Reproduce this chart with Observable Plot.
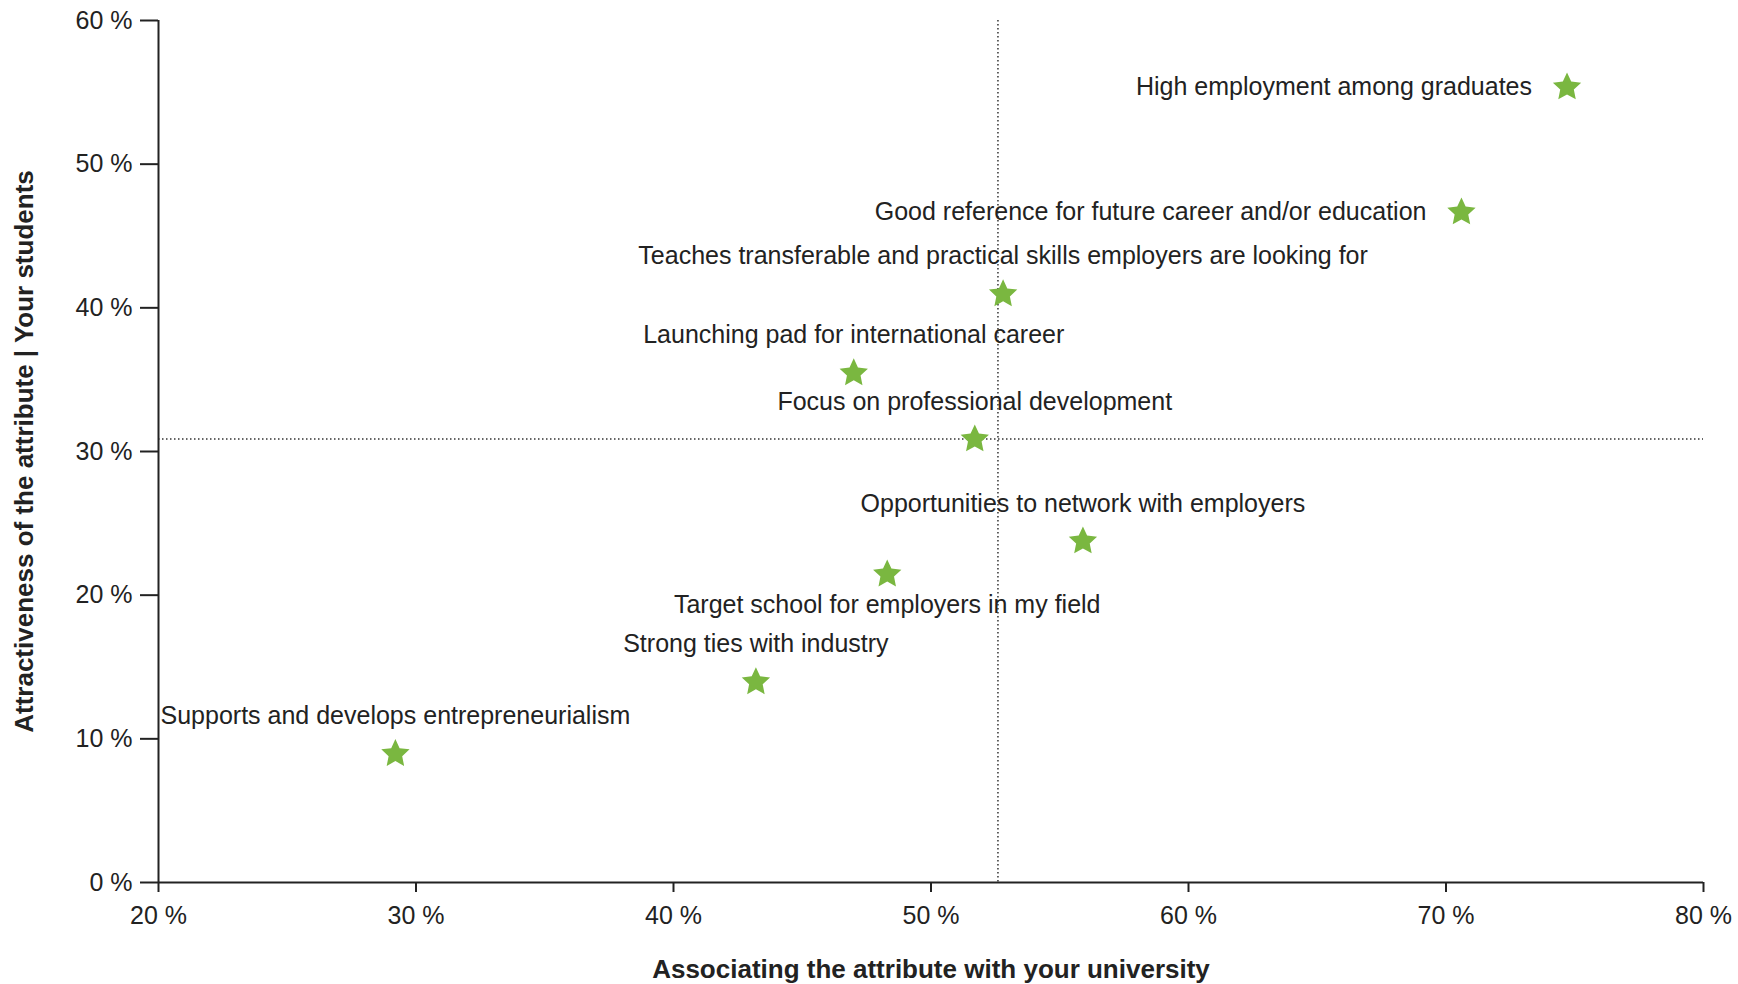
<!DOCTYPE html>
<html>
<head>
<meta charset="utf-8">
<script src="https://cdn.jsdelivr.net/npm/d3@7"></script>
<script src="https://cdn.jsdelivr.net/npm/@observablehq/plot@0.6"></script>
<style>
  html, body { margin: 0; padding: 0; background: #fff; }
  #chart svg { display: block; }
</style>
</head>
<body>
<div id="chart"></div>
<script>
// ---- Data ----
const attributes = [
  "High employment among graduates",
  "Good reference for future career and/or education",
  "Teaches transferable and practical skills employers are looking for",
  "Launching pad for international career",
  "Focus on professional development",
  "Opportunities to network with employers",
  "Target school for employers in my field",
  "Strong ties with industry",
  "Supports and develops entrepreneurialism"
];
// Associating the attribute with your university (%)
const association = [74.7, 70.6, 52.8, 47.0, 51.7, 55.9, 48.3, 43.2, 29.2];
// Attractiveness of the attribute | Your students (%)
const attractiveness = [55.4, 46.7, 41.0, 35.5, 30.9, 23.8, 21.5, 14.0, 9.0];

const xTicks = [20, 30, 40, 50, 60, 70, 80];
const yTicks = [0, 10, 20, 30, 40, 50, 60];
const xTitle = "Associating the attribute with your university";
const yTitle = "Attractiveness of the attribute | Your students";

// ---- Build table ----
const rows = attributes.map((name, i) => ({name, x: association[i], y: attractiveness[i]}));
const meanX = d3.mean(association);
const meanY = d3.mean(attractiveness);

// label placement (layout config)
const labelLeft = new Set([attributes[0], attributes[1]]);
const labelBelow = new Set([attributes[6]]);
const leftRows = rows.filter(d => labelLeft.has(d.name));
const belowRows = rows.filter(d => labelBelow.has(d.name));
const aboveRows = rows.filter(d => !labelLeft.has(d.name) && !labelBelow.has(d.name));

// a slightly fatter five-pointed star symbol
const fatStar = {
  draw(context, size) {
    const R = Math.sqrt(size / Math.PI) * 1.6;
    const r = R * 0.48;
    for (let i = 0; i < 10; i++) {
      const a = -Math.PI / 2 + i * Math.PI / 5;
      const rad = i % 2 === 0 ? R : r;
      const px = rad * Math.cos(a), py = rad * Math.sin(a) + R * 0.05;
      if (i === 0) context.moveTo(px, py); else context.lineTo(px, py);
    }
    context.closePath();
  }
};

const fmt = d => d + " %";
const font = "'Liberation Sans', Arial, sans-serif";
const ink = "#222";

const chart = Plot.plot({
  width: 1738,
  height: 984,
  marginLeft: 158,
  marginRight: 35,
  marginTop: 20,
  marginBottom: 102,
  x: {domain: [20, 80], label: null},
  y: {domain: [0, 60], label: null},
  style: {fontFamily: font, fontSize: "25px", color: ink, background: "#fff"},
  marks: [
    Plot.axisX({ticks: xTicks, tickFormat: fmt, tickSize: 10, tickPadding: 14, label: null, fontSize: 25, stroke: ink, strokeWidth: 2}),
    Plot.axisY({ticks: yTicks, tickFormat: fmt, tickSize: 18, tickPadding: 8, label: null, fontSize: 25, stroke: ink, strokeWidth: 2}),
    Plot.ruleX([meanX], {stroke: "#333", strokeWidth: 1.5, strokeDasharray: "1.5,2.5"}),
    Plot.ruleY([meanY], {stroke: "#333", strokeWidth: 1.5, strokeDasharray: "1.5,2.5"}),
    Plot.ruleY([0], {stroke: ink, strokeWidth: 2}),
    Plot.ruleX([20], {stroke: ink, strokeWidth: 2}),
    Plot.dot(rows, {x: "x", y: "y", symbol: fatStar, r: 9.3, fill: "#7ab740", stroke: "none"}),
    Plot.text(leftRows, {x: "x", y: "y", text: "name", textAnchor: "end", lineAnchor: "middle", dx: -35, fill: ink, fontSize: 25}),
    Plot.text(aboveRows, {x: "x", y: "y", text: "name", textAnchor: "middle", lineAnchor: "middle", dy: -37, fill: ink, fontSize: 25}),
    Plot.text(belowRows, {x: "x", y: "y", text: "name", textAnchor: "middle", lineAnchor: "middle", dy: 31, fill: ink, fontSize: 25}),
    Plot.text([xTitle], {text: d => d, frameAnchor: "bottom", textAnchor: "middle", lineAnchor: "middle", dy: 87, fontWeight: "bold", fontSize: 26, fill: ink}),
    Plot.text([yTitle], {text: d => d, frameAnchor: "left", textAnchor: "middle", lineAnchor: "middle", rotate: -90, dx: -134, fontWeight: "bold", fontSize: 26, fill: ink})
  ]
});
document.getElementById("chart").appendChild(chart);
</script>
</body>
</html>
